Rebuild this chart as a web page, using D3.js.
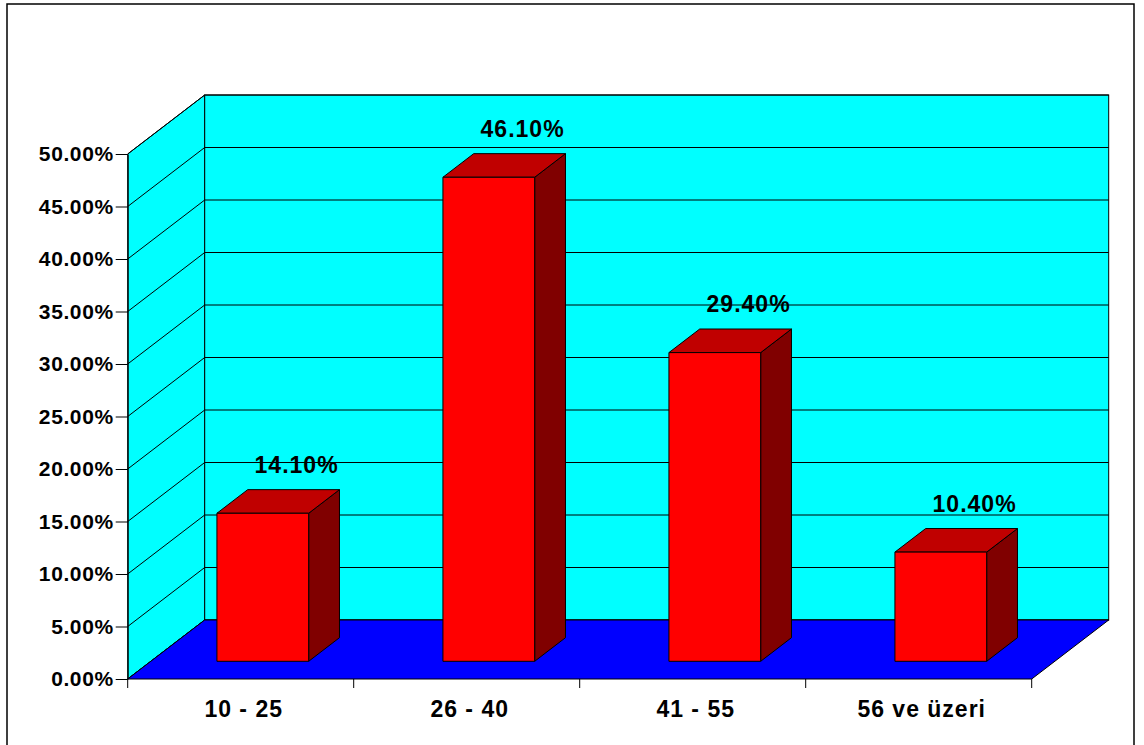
<!DOCTYPE html>
<html>
<head>
<meta charset="utf-8">
<script src="https://cdn.jsdelivr.net/npm/d3@7"></script>
<style>
  body { margin: 0; background: #fff; }
  text { font-family: "Liberation Sans", Arial, sans-serif; font-weight: bold; fill: #000; }
</style>
</head>
<body>
<script>
// data
var categories = ['10 - 25', '26 - 40', '41 - 55', '56 ve üzeri'];
var values = [14.1, 46.1, 29.4, 10.4];
var yTicks = [0, 5, 10, 15, 20, 25, 30, 35, 40, 45, 50];

var W = 1144, H = 745;
var plotLeft = 127.7, plotRight = 1031.7, plotBottom = 679, plotTop = 154;
var DX = 77, DY = 59;        // full depth of the 3d box
var z0 = 0.3, z1 = 0.7;      // bar depth (front / back)

var x = d3.scaleBand().domain(categories).range([plotLeft, plotRight]).padding(0);
var y = d3.scaleLinear().domain([0, 50]).range([plotBottom, plotTop]);
var barW = x.bandwidth() * 0.406;

var svg = d3.select('body')
  .append('svg')
  .attr('width', W)
  .attr('height', H);

// outer frame
svg.append('rect')
  .attr('x', 7).attr('y', 4)
  .attr('width', 1127).attr('height', 760)
  .attr('fill', 'none')
  .attr('stroke', '#000')
  .attr('stroke-width', 1.5);

function pt(px, py, z) {
  return [px + z * DX, py - z * DY];
}

// left side wall
svg.append('polygon')
  .attr('points', [pt(plotLeft, plotTop, 0), pt(plotLeft, plotTop, 1), pt(plotLeft, plotBottom, 1), pt(plotLeft, plotBottom, 0)].join(' '))
  .attr('fill', '#00ffff')
  .attr('stroke', '#000');

// back wall
svg.append('rect')
  .attr('x', plotLeft + DX).attr('y', plotTop - DY)
  .attr('width', plotRight - plotLeft).attr('height', plotBottom - plotTop)
  .attr('fill', '#00ffff')
  .attr('stroke', '#000');

// grid lines (side + back)
svg.append('g')
  .selectAll('polyline')
  .data(yTicks)
  .enter()
  .append('polyline')
  .attr('points', function(d) {
    return [pt(plotLeft, y(d), 0), pt(plotLeft, y(d), 1), pt(plotRight, y(d), 1)].join(' ');
  })
  .attr('fill', 'none')
  .attr('stroke', '#000')
  .attr('stroke-width', 1);

// floor
svg.append('polygon')
  .attr('points', [pt(plotLeft, plotBottom, 0), pt(plotRight, plotBottom, 0), pt(plotRight, plotBottom, 1), pt(plotLeft, plotBottom, 1)].join(' '))
  .attr('fill', '#0000ff')
  .attr('stroke', '#000');

// y axis
svg.append('g')
  .attr('transform', 'translate(' + plotLeft + ',0)')
  .call(d3.axisLeft(y)
    .tickValues(yTicks)
    .tickFormat(function(d) { return d.toFixed(2) + '%'; })
    .tickSize(12)
    .tickSizeOuter(0)
    .tickPadding(2))
  .call(function(g) {
    g.selectAll('line').attr('stroke', '#000');
    g.select('.domain').attr('stroke', '#000');
    g.selectAll('text')
      .attr('font-size', 21)
      .attr('letter-spacing', 0.6)
      .attr('font-family', '"Liberation Sans", Arial, sans-serif')
      .attr('font-weight', 'bold')
      .attr('fill', '#000');
  });

// x axis ticks at category boundaries
var bounds = categories.map(function(c) { return x(c); }).concat([x(categories[categories.length - 1]) + x.bandwidth()]);
svg.append('g')
  .selectAll('line')
  .data(bounds)
  .enter()
  .append('line')
  .attr('x1', function(d) { return d; })
  .attr('x2', function(d) { return d; })
  .attr('y1', plotBottom)
  .attr('y2', plotBottom + 9)
  .attr('stroke', '#000');

svg.append('g')
  .selectAll('text')
  .data(categories)
  .enter()
  .append('text')
  .attr('x', function(d) { return x(d) + x.bandwidth() / 2 + 3; })
  .attr('y', 716.5)
  .attr('text-anchor', 'middle')
  .attr('font-size', 23)
  .attr('letter-spacing', 1)
  .text(function(d) { return d; });

// bars
var bars = svg.append('g')
  .selectAll('g')
  .data(values)
  .enter()
  .append('g');

function bx(i) {
  return x(categories[i]) + x.bandwidth() / 2 - barW / 2 - 1;
}

// side face
bars.append('polygon')
  .attr('points', function(d, i) {
    var r = bx(i) + barW;
    return [pt(r, y(d), z0), pt(r, y(d), z1), pt(r, y(0), z1), pt(r, y(0), z0)].join(' ');
  })
  .attr('fill', '#800000')
  .attr('stroke', '#000')
  .attr('stroke-linejoin', 'round');

// top face
bars.append('polygon')
  .attr('points', function(d, i) {
    var l = bx(i), r = bx(i) + barW;
    return [pt(l, y(d), z0), pt(l, y(d), z1), pt(r, y(d), z1), pt(r, y(d), z0)].join(' ');
  })
  .attr('fill', '#c00000')
  .attr('stroke', '#000')
  .attr('stroke-linejoin', 'round');

// front face
bars.append('polygon')
  .attr('points', function(d, i) {
    var l = bx(i), r = bx(i) + barW;
    return [pt(l, y(d), z0), pt(r, y(d), z0), pt(r, y(0), z0), pt(l, y(0), z0)].join(' ');
  })
  .attr('fill', '#ff0000')
  .attr('stroke', '#000')
  .attr('stroke-linejoin', 'round');

// value labels
bars.append('text')
  .attr('x', function(d, i) { return pt(bx(i) + barW / 2, y(d), z1)[0] + 3; })
  .attr('y', function(d, i) { return pt(bx(i), y(d), z1)[1] - 17; })
  .attr('text-anchor', 'middle')
  .attr('font-size', 23)
  .attr('letter-spacing', 1)
  .text(function(d) { return d.toFixed(2) + '%'; });
</script>
</body>
</html>
